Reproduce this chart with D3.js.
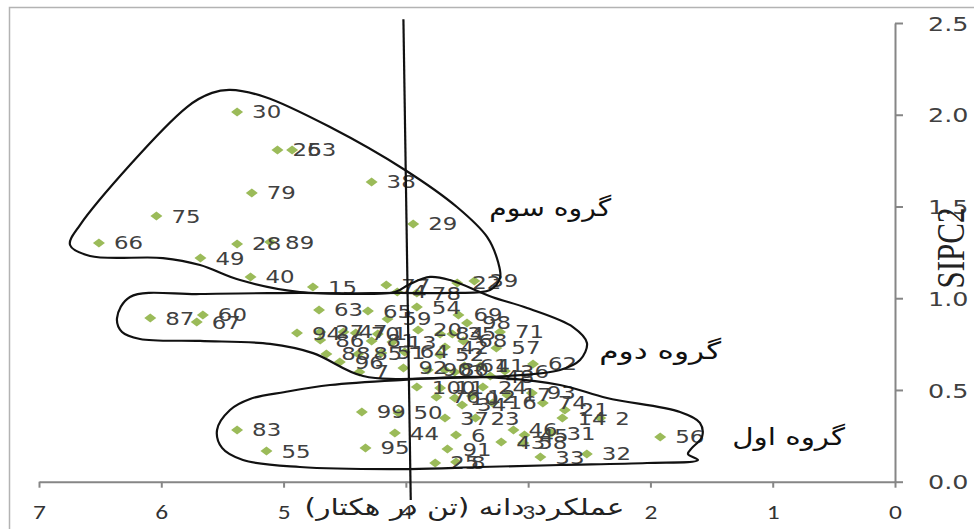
<!DOCTYPE html>
<html><head><meta charset="utf-8">
<script src="https://cdn.jsdelivr.net/npm/d3@7"></script>
<style>body{margin:0;background:#fff}svg{display:block}</style>
</head><body><svg id="c" width="974" height="529"></svg>
<script>
// ---- data ----
const ids = [30,26,53,79,38,75,29,66,28,89,49,40,15,77,22,39,4,
78,54,87,60,67,63,65,59,69,98,94,27,47,70,1,20,84,35,71,68,57,86,81,13,88,85,51,64,52,42,96,7,92,90,80,3,61,41,36,62,48,
100,11,24,76,10,12,34,16,17,93,74,21,14,2,99,50,37,23,83,44,6,46,45,31,43,58,55,95,91,33,32,56,25,8];
const yieldVals = [5.38,5.05,4.93,5.26,4.28,6.04,3.94,6.51,5.38,5.11,5.68,5.27,4.76,4.16,3.58,3.44,4.07,
3.91,3.91,6.09,5.66,5.71,4.71,4.31,4.15,3.57,3.50,4.89,4.70,4.51,4.41,4.23,3.90,3.72,3.62,3.23,3.53,3.26,4.70,4.28,4.11,4.65,4.39,4.20,4.01,3.72,3.68,4.54,4.38,4.02,3.82,3.68,3.60,3.52,3.39,3.19,2.96,3.31,
3.91,3.72,3.37,3.75,3.60,3.46,3.54,3.29,3.17,2.97,2.88,2.70,2.72,2.41,4.36,4.06,3.68,3.43,5.38,4.09,3.59,3.12,3.03,2.81,3.22,3.04,5.14,4.33,3.66,2.90,2.52,1.92,3.76,3.59];
const sipcVals = [2.015,1.808,1.808,1.574,1.634,1.448,1.405,1.301,1.296,1.306,1.219,1.116,1.061,1.072,1.083,1.094,1.034,
1.028,0.952,0.892,0.909,0.870,0.936,0.930,0.887,0.909,0.865,0.810,0.816,0.816,0.810,0.805,0.827,0.805,0.805,0.816,0.767,0.729,0.772,0.767,0.761,0.696,0.696,0.702,0.707,0.691,0.734,0.652,0.598,0.620,0.609,0.609,0.598,0.631,0.631,0.603,0.642,0.576,
0.516,0.511,0.516,0.462,0.456,0.467,0.418,0.429,0.473,0.484,0.429,0.391,0.347,0.347,0.380,0.375,0.347,0.347,0.282,0.265,0.254,0.282,0.254,0.265,0.216,0.211,0.167,0.184,0.178,0.134,0.151,0.244,0.102,0.107];
const xTicks = [0,1,2,3,4,5,6,7];
const yTicks = [0,0.5,1,1.5,2,2.5];
const xTitle = "عملکرد دانه (تن در هکتار)";
const yTitle = "SIPC2";
const groupNames = ["گروه اول","گروه دوم","گروه سوم"];
// group outlines (yield, SIPC2)
const group3 = [[5.438,2.135],[5.152,2.097],[4.620,1.933],[4.007,1.699],[3.582,1.497],[3.336,1.334],[3.246,1.197],[3.230,1.110],[3.312,1.045],[3.639,1.029],[4.048,1.029],[4.866,1.034],[5.356,1.099],[5.683,1.181],[5.986,1.219],[6.583,1.230],[6.746,1.290],[6.665,1.399],[5.790,2.042],[5.585,2.119]];
const group2 = [[6.362,0.892],[6.256,1.007],[5.683,1.023],[4.866,1.029],[4.089,1.034],[3.966,1.078],[3.802,1.116],[3.639,1.099],[3.295,1.007],[3.009,0.947],[2.633,0.843],[2.519,0.756],[2.576,0.663],[2.739,0.609],[3.173,0.576],[3.721,0.565],[4.350,0.576],[4.759,0.701],[5.111,0.751],[5.683,0.767],[6.174,0.778],[6.321,0.816]];
const group1 = [[4.048,0.554],[3.394,0.571],[2.739,0.527],[2.355,0.456],[1.758,0.380],[1.595,0.320],[1.578,0.244],[1.660,0.184],[1.693,0.151],[1.611,0.118],[2.028,0.102],[2.739,0.091],[3.394,0.080],[3.966,0.069],[4.866,0.080],[5.332,0.118],[5.503,0.184],[5.544,0.282],[5.438,0.391],[5.274,0.451],[4.988,0.489],[4.620,0.527]];
const meanLine = [[4.02,2.52],[3.96,-0.10]];
// group label anchor positions (yield, SIPC2)
const groupLabelX = [0.87,1.92,2.82];
const groupLabelY = [0.245,0.715,1.495];

// ---- chart ----
const svg = d3.select("#c");
const SX = 1.27;
const x = d3.scaleLinear().domain([7,0]).range([39,895]);
const y = d3.scaleLinear().domain([0,2.5]).range([481.7,23]);

svg.append("rect").attr("width",974).attr("height",529).attr("fill","#fff");
// outer frame
svg.append("path").attr("d","M9.5,529V7.5H974").attr("fill","none").attr("stroke","#b3b3b3").attr("stroke-width",1.5);

const pts = ids.map((id,i)=>({id, x:yieldVals[i], y:sipcVals[i]}));

// axes
const gx = svg.append("g").attr("transform",`translate(0,${y(0)})`)
  .call(d3.axisBottom(x).tickValues(xTicks).tickSize(6).tickSizeOuter(0).tickFormat(d3.format("d")));
gx.select(".domain").attr("stroke","#868686").attr("stroke-width",2);
gx.selectAll(".tick line").attr("stroke","#868686").attr("stroke-width",2);
gx.selectAll(".tick text").attr("y",37).attr("dy","0").attr("transform",`scale(${SX},1)`)
  .attr("font-family","Carlito, 'Liberation Sans', sans-serif").attr("font-size",20).attr("fill","#333");

const gy = svg.append("g").attr("transform",`translate(${x(0)},0)`)
  .call(d3.axisRight(y).tickValues(yTicks).tickSize(8).tickSizeOuter(0).tickFormat(d3.format(".1f")));
gy.select(".domain").attr("stroke","#868686").attr("stroke-width",2);
gy.selectAll(".tick line").attr("stroke","#868686").attr("stroke-width",2);
gy.selectAll(".tick text").attr("x",26).attr("dy","0.36em").attr("transform",`scale(${SX},1)`)
  .attr("font-family","'DejaVu Sans', Verdana, sans-serif").attr("font-size",20).attr("fill","#404040");

// points
svg.append("g").selectAll("path").data(pts).join("path")
  .attr("d","M-6,0L0,-4.5L6,0L0,4.5Z")
  .attr("transform",d=>`translate(${x(d.x)},${y(d.y)})`)
  .attr("fill","#9bbb59");
// point labels
svg.append("g").selectAll("text").data(pts).join("text")
  .attr("transform",d=>`translate(${x(d.x)+15},${y(d.y)}) scale(${SX},1)`)
  .attr("dy","0.36em")
  .attr("font-family","'DejaVu Sans', Verdana, sans-serif").attr("font-size",18).attr("fill","#404040")
  .text(d=>d.id);

// outlines
const line = d3.line().x(d=>x(d[0])).y(d=>y(d[1])).curve(d3.curveCatmullRomClosed.alpha(0.5));
[group1,group2,group3].forEach(g=>{
  svg.append("path").attr("d",line(g)).attr("fill","none").attr("stroke","#111").attr("stroke-width",2.2);
});
svg.append("path").attr("d",d3.line().x(d=>x(d[0])).y(d=>y(d[1]))(meanLine))
  .attr("fill","none").attr("stroke","#111").attr("stroke-width",2.2);

// group labels
const gw = [113,122,122];
groupNames.forEach((t,i)=>{
  const tx = svg.append("text").attr("font-family","'DejaVu Sans', sans-serif").attr("font-size",24)
    .attr("fill","#111").attr("text-anchor","middle").attr("direction","rtl").attr("dy","0.36em").text(t);
  const w = tx.node().getComputedTextLength();
  tx.attr("transform",`translate(${x(groupLabelX[i])},${y(groupLabelY[i])}) scale(${gw[i]/w},1)`);
});

// axis titles
const xt = svg.append("text").attr("font-family","'DejaVu Sans', sans-serif").attr("font-size",23)
  .attr("fill","#222").attr("text-anchor","middle").attr("direction","rtl").attr("dy","0.36em").text(xTitle);
const xw = xt.node().getComputedTextLength();
xt.attr("transform",`translate(${x(3.52)},507) scale(${320/xw},1)`);

svg.append("text").attr("transform",`translate(951,248) scale(${SX},1) rotate(-90)`)
  .attr("text-anchor","middle").attr("dy","0.33em")
  .attr("font-family","'Liberation Serif', 'Times New Roman', serif").attr("font-size",31).attr("fill","#222")
  .text(yTitle);
</script></body></html>
